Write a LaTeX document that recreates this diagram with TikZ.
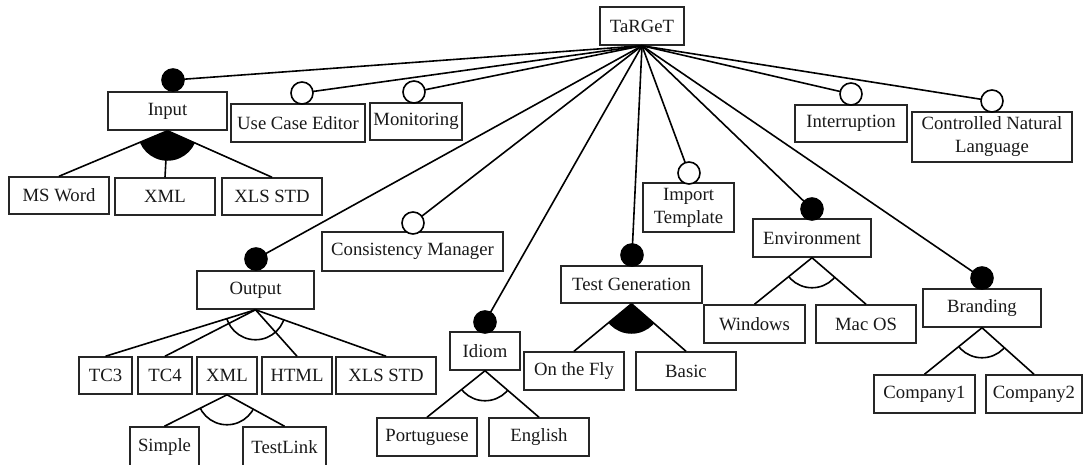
\documentclass[tikz,border=0pt]{standalone}
\usepackage{fontspec}
\setmainfont{Liberation Serif}
\newcommand\grpopen[3]{\begin{scope}\clip (#1.south) -- (#2.north) -- (#3.north) -- cycle; \draw[con] (#1.south) circle[radius=30];\end{scope}}
\newcommand\grpfilled[3]{\begin{scope}\clip (#1.south) -- (#2.north) -- (#3.north) -- cycle; \fill[black] (#1.south) circle[radius=30];\end{scope}}
\begin{document}
\begin{tikzpicture}[x=1pt,y=-1pt,
  box/.style={draw=black!85, line width=1.5pt, fill=white, inner sep=0pt, align=center, text=black!90,
              font=\fontsize{18.7}{23}\selectfont},
  con/.style={line width=1.6pt, draw=black},
  opt/.style={circle, draw=black, line width=1.6pt, fill=white, minimum size=22pt, inner sep=0pt},
  mand/.style={circle, draw=black, fill=black, line width=1.6pt, minimum size=22pt, inner sep=0pt},
]
\useasboundingbox (0,0) rectangle (1083,464);

% root
\node[box, minimum width=84pt, minimum height=38pt] (target) at (642,26) {TaRGeT};

% feature circles (positions)
\coordinate (cInput) at (173,80);
\coordinate (cUse) at (302,93);
\coordinate (cMon) at (414,92);
\coordinate (cCons) at (413,223);
\coordinate (cOut) at (256,259);
\coordinate (cIdiom) at (485,322);
\coordinate (cTest) at (632,255);
\coordinate (cImp) at (689,173);
\coordinate (cEnv) at (812,209);
\coordinate (cBrand) at (982,278);
\coordinate (cInt) at (851,94);
\coordinate (cCnl) at (992,101);

% connectors from root
\foreach \c in {cInput,cUse,cMon,cCons,cOut,cIdiom,cTest,cImp,cEnv,cBrand,cInt,cCnl}
  \draw[con] (target.south) -- (\c);

% first level boxes
\node[box, minimum width=119pt, minimum height=38pt] (input) at (167.5,111) {Input};
\node[box, minimum width=134pt, minimum height=38pt] (usecase) at (298,123) {Use Case Editor};
\node[box, minimum width=92pt, minimum height=37pt] (monitoring) at (416,121.5) {Monitoring};
\node[box, minimum width=181pt, minimum height=39pt] (consistency) at (412.5,251.5) {Consistency Manager};
\node[box, minimum width=117pt, minimum height=38pt] (output) at (255.5,290) {Output};
\node[box, minimum width=70pt, minimum height=38pt] (idiom) at (485,351) {Idiom};
\node[box, minimum width=141pt, minimum height=37pt] (testgen) at (631.5,284.5) {Test Generation};
\node[box, minimum width=91pt, minimum height=49pt] (import) at (688.5,207.5) {Import\\Template};
\node[box, minimum width=118pt, minimum height=38pt] (environment) at (812,238) {Environment};
\node[box, minimum width=118pt, minimum height=38pt] (branding) at (982,308) {Branding};
\node[box, minimum width=112pt, minimum height=37pt] (interruption) at (851,123.5) {Interruption};
\node[box, minimum width=160pt, minimum height=50pt] (cnl) at (992,137) {Controlled Natural\\Language};

% circles
\node[mand] (mInput) at (cInput) {};
\node[opt] (oUse) at (cUse) {};
\node[opt] (oMon) at (cMon) {};
\node[opt] (oCons) at (cCons) {};
\node[mand] (mOut) at (cOut) {};
\node[mand] (mIdiom) at (cIdiom) {};
\node[mand] (mTest) at (cTest) {};
\node[opt] (oImp) at (cImp) {};
\node[mand] (mEnv) at (cEnv) {};
\node[mand] (mBrand) at (cBrand) {};
\node[opt] (oInt) at (cInt) {};
\node[opt] (oCnl) at (cCnl) {};

% Input children
\node[box, minimum width=100pt, minimum height=37pt] (msword) at (59,195.5) {MS Word};
\node[box, minimum width=100pt, minimum height=37pt] (xmla) at (165,196.5) {XML};
\node[box, minimum width=100pt, minimum height=37pt] (xlsa) at (272,196.5) {XLS STD};
\grpfilled{input}{msword}{xlsa}
\draw[con] (input.south) -- (msword.north);
\draw[con] (input.south) -- (xmla.north);
\draw[con] (input.south) -- (xlsa.north);

% Output children
\node[box, minimum width=53pt, minimum height=37pt] (tcthree) at (105.5,375.5) {TC3};
\node[box, minimum width=54pt, minimum height=37pt] (tcfour) at (165,375.5) {TC4};
\node[box, minimum width=60pt, minimum height=37pt] (xmlb) at (227,375.5) {XML};
\node[box, minimum width=70pt, minimum height=37pt] (html) at (297,375.5) {HTML};
\node[box, minimum width=100pt, minimum height=37pt] (xlsb) at (386,375.5) {XLS STD};
\draw[con] (output.south) -- (tcthree.north);
\draw[con] (output.south) -- (tcfour.north);
\draw[con] (output.south) -- (html.north);
\draw[con] (output.south) -- (xlsb.north);
\grpopen{output}{tcthree}{xlsb}

% XML children
\node[box, minimum width=69pt, minimum height=40pt] (simple) at (164.5,447) {Simple};
\node[box, minimum width=83pt, minimum height=40pt] (testlink) at (284.5,447) {TestLink};
\draw[con] (xmlb.south) -- (simple.north);
\draw[con] (xmlb.south) -- (testlink.north);
\grpopen{xmlb}{simple}{testlink}

% Idiom children
\node[box, minimum width=100pt, minimum height=38pt] (portuguese) at (427,437) {Portuguese};
\node[box, minimum width=100pt, minimum height=38pt] (english) at (539,437) {English};
\draw[con] (idiom.south) -- (portuguese.north);
\draw[con] (idiom.south) -- (english.north);
\grpopen{idiom}{portuguese}{english}

% Test Generation children
\node[box, minimum width=100pt, minimum height=38pt] (onthefly) at (574,371) {On the Fly};
\node[box, minimum width=100pt, minimum height=38pt] (basic) at (686,371) {Basic};
\grpfilled{testgen}{onthefly}{basic}
\draw[con] (testgen.south) -- (onthefly.north);
\draw[con] (testgen.south) -- (basic.north);

% Environment children
\node[box, minimum width=101pt, minimum height=38pt] (windows) at (754.5,324) {Windows};
\node[box, minimum width=100pt, minimum height=38pt] (macos) at (866,324) {Mac OS};
\draw[con] (environment.south) -- (windows.north);
\draw[con] (environment.south) -- (macos.north);
\grpopen{environment}{windows}{macos}

% Branding children
\node[box, minimum width=101pt, minimum height=38pt] (companyone) at (924.5,394) {Company1};
\node[box, minimum width=96pt, minimum height=38pt] (companytwo) at (1034,394) {Company2};
\draw[con] (branding.south) -- (companyone.north);
\draw[con] (branding.south) -- (companytwo.north);
\grpopen{branding}{companyone}{companytwo}
\end{tikzpicture}
\end{document}
